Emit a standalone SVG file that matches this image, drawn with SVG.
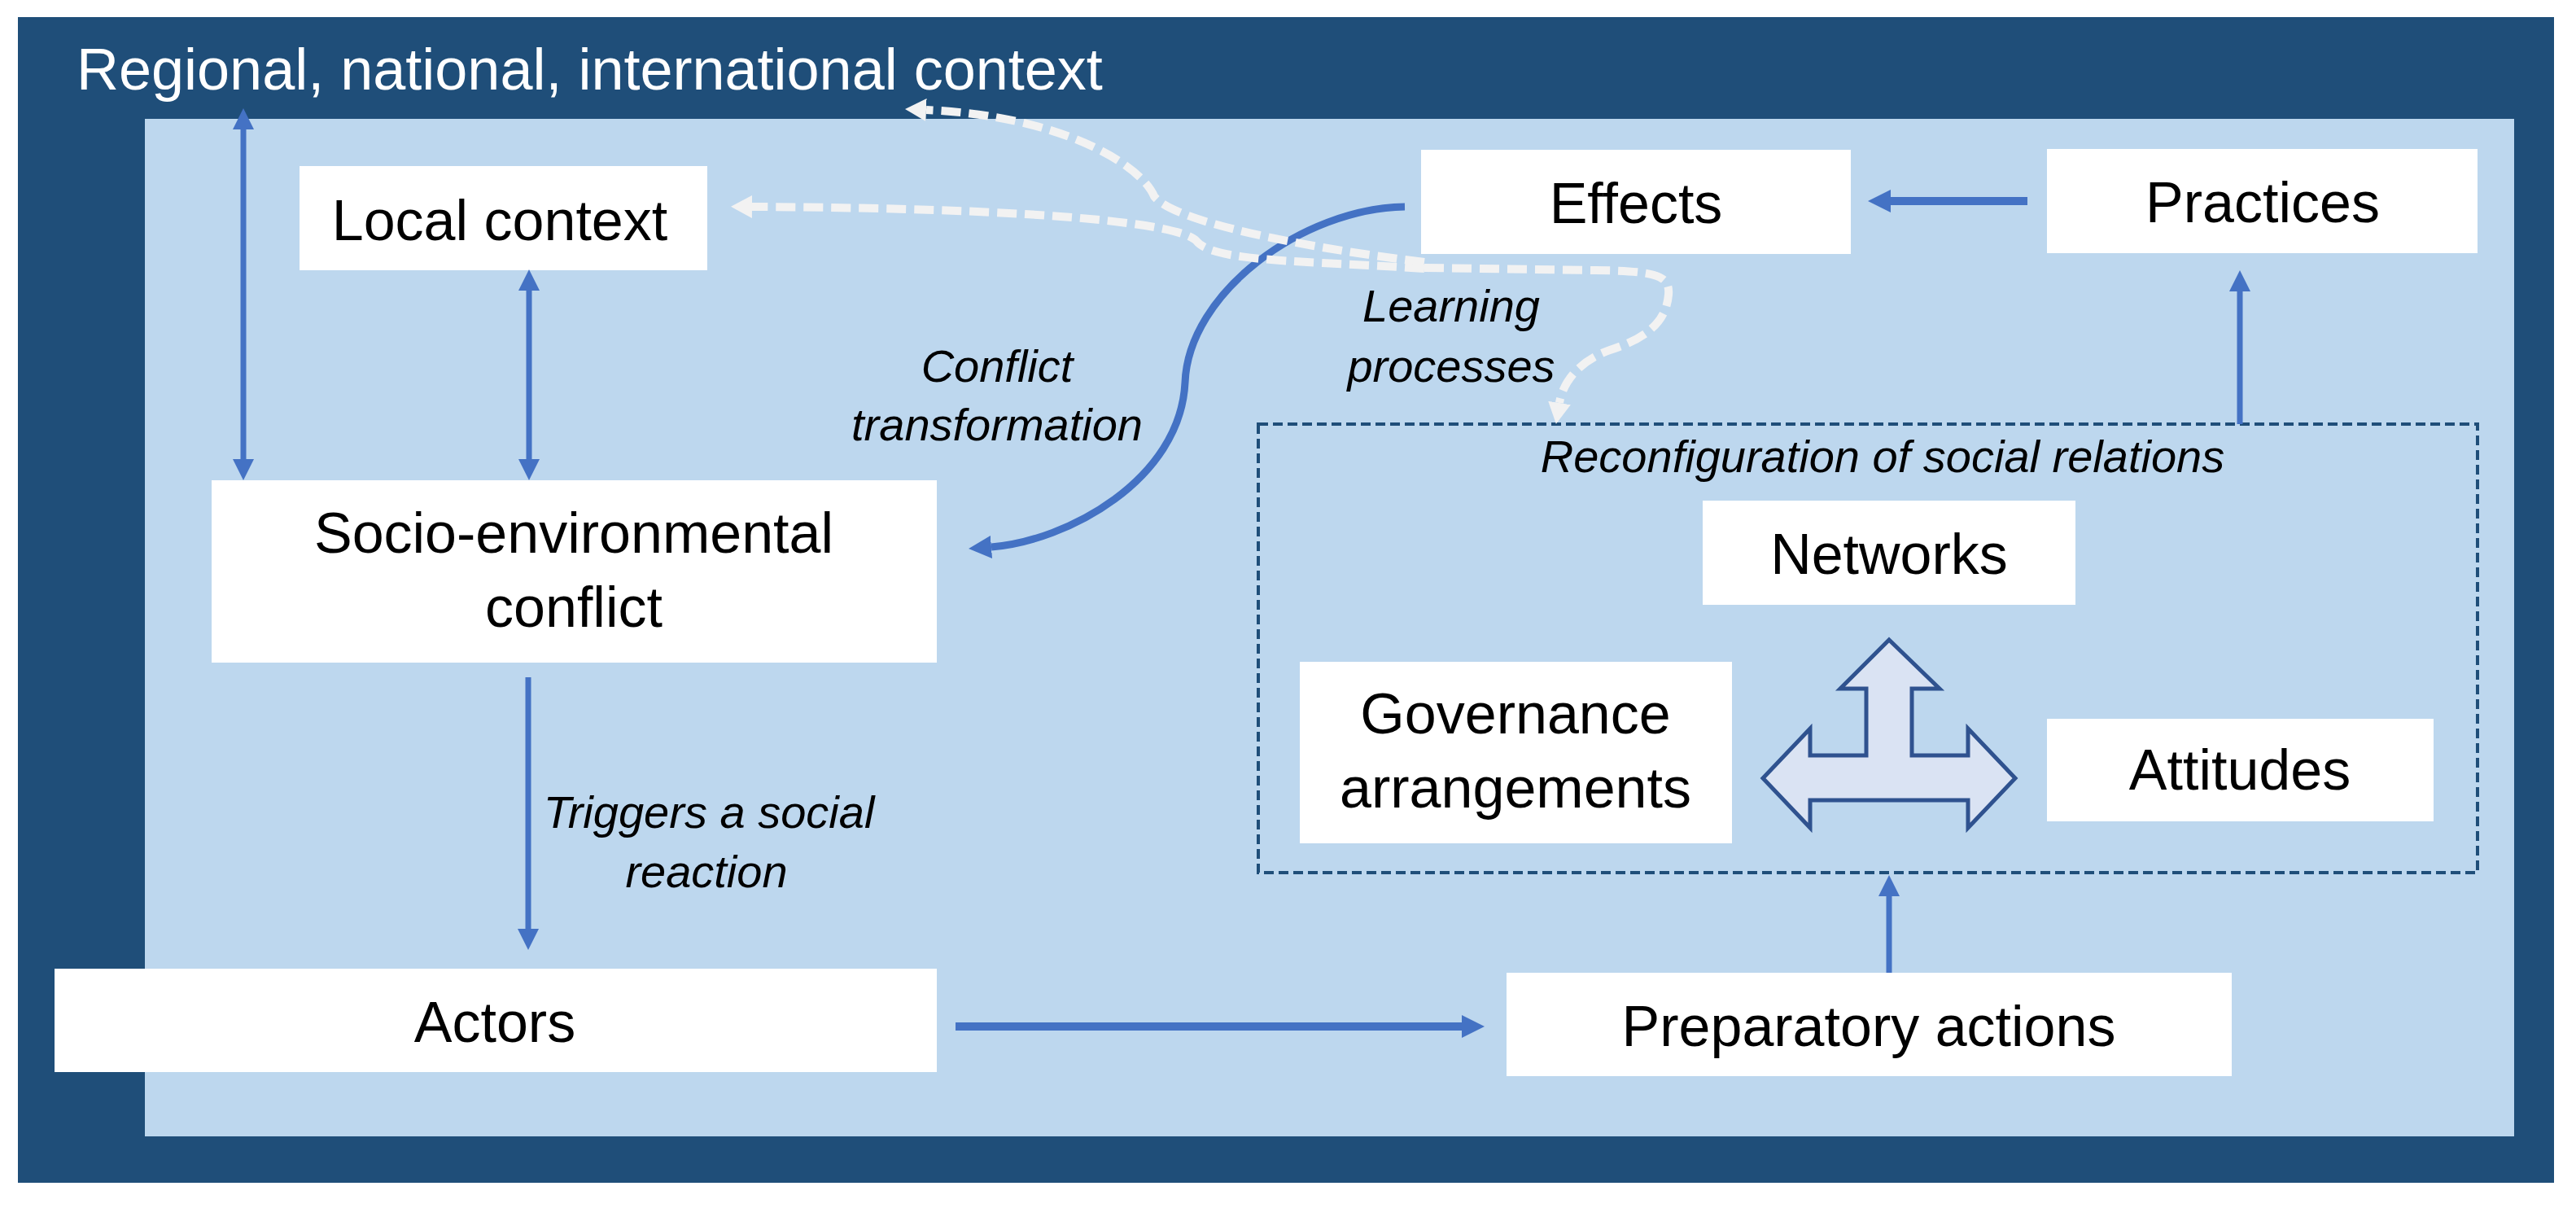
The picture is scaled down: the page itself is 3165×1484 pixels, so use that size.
<svg xmlns="http://www.w3.org/2000/svg" width="3165" height="1484" viewBox="0 0 3165 1484">
<style>
.box{fill:#ffffff;stroke:none}
.lbl{font-family:"Liberation Sans",Arial,sans-serif;font-size:70px;fill:#000;text-anchor:middle}
.it{font-family:"Liberation Sans",Arial,sans-serif;font-size:56px;font-style:italic;fill:#000;text-anchor:middle}
.blue{fill:none;stroke:#4472C4}
.wd{fill:none;stroke:#F2F2F2;stroke-width:10;stroke-dasharray:24 10}
</style>
<defs>
<marker id="ah" markerUnits="userSpaceOnUse" markerWidth="26" markerHeight="26" refX="0" refY="13" orient="auto-start-reverse" viewBox="0 0 26 26">
<path d="M0,0 L26,13 L0,26 z" fill="#4472C4"/>
</marker>
<marker id="ahb" markerUnits="userSpaceOnUse" markerWidth="28" markerHeight="28" refX="0" refY="14" orient="auto" viewBox="0 0 28 28">
<path d="M0,0 L28,14 L0,28 z" fill="#4472C4"/>
</marker>
<marker id="aw" markerUnits="userSpaceOnUse" markerWidth="26" markerHeight="28" refX="0" refY="14" orient="auto" viewBox="0 0 26 28">
<path d="M0,0 L26,14 L0,28 z" fill="#F2F2F2"/>
</marker>
</defs>
<rect x="0" y="0" width="3165" height="1484" fill="#ffffff"/>
<g id="context">
<rect x="22" y="21" width="3116" height="1432" fill="#1F4E79"/>
<rect x="178" y="146" width="2911" height="1250" fill="#BDD7EE"/>
<text x="94" y="110" font-family="Liberation Sans, Arial, sans-serif" font-size="72" fill="#ffffff">Regional, national, international context</text>
</g>
<g id="reconfiguration">
<rect x="1546" y="521" width="1498" height="551" fill="none" stroke="#1F4E79" stroke-width="4" stroke-dasharray="12 6"/>
<text class="it" x="2313" y="580">Reconfiguration of social relations</text>
</g>
<g id="local-context">
<rect class="box" x="368" y="204" width="501" height="128"/>
<text class="lbl" x="614" y="295">Local context</text>
</g>
<g id="socio-environmental-conflict">
<rect class="box" x="260" y="590" width="891" height="224"/>
<text class="lbl" x="705" y="679">Socio-environmental</text>
<text class="lbl" x="705" y="770">conflict</text>
</g>
<g id="actors">
<rect class="box" x="67" y="1190" width="1084" height="127"/>
<text class="lbl" x="608" y="1280">Actors</text>
</g>
<g id="preparatory-actions">
<rect class="box" x="1851" y="1195" width="891" height="127"/>
<text class="lbl" x="2296" y="1285">Preparatory actions</text>
</g>
<g id="effects">
<rect class="box" x="1746" y="184" width="528" height="128"/>
<text class="lbl" x="2010" y="274">Effects</text>
</g>
<g id="practices">
<rect class="box" x="2515" y="183" width="529" height="128"/>
<text class="lbl" x="2780" y="273">Practices</text>
</g>
<g id="networks">
<rect class="box" x="2092" y="615" width="458" height="128"/>
<text class="lbl" x="2321" y="705">Networks</text>
</g>
<g id="governance-arrangements">
<rect class="box" x="1597" y="813" width="531" height="223"/>
<text class="lbl" x="1862" y="901">Governance</text>
<text class="lbl" x="1862" y="992">arrangements</text>
</g>
<g id="attitudes">
<rect class="box" x="2515" y="883" width="475" height="126"/>
<text class="lbl" x="2752" y="970">Attitudes</text>
</g>
<g id="triple-arrow">
<polygon points="2321,786 2383,846 2349,846 2349,928 2418,928 2418,895 2476,956 2418,1017 2418,983 2224,983 2224,1017 2166,956 2224,895 2224,928 2293,928 2293,846 2261,846" fill="#DAE3F3" stroke="#2F528F" stroke-width="5" stroke-linejoin="miter"/>
</g>
<g id="connectors">
<line class="blue" x1="299" y1="159" x2="299" y2="564" stroke-width="7" marker-start="url(#ah)" marker-end="url(#ah)"/>
<line class="blue" x1="650" y1="357" x2="650" y2="564" stroke-width="7" marker-start="url(#ah)" marker-end="url(#ah)"/>
<line class="blue" x1="649" y1="832" x2="649" y2="1141" stroke-width="7" marker-end="url(#ah)"/>
<line class="blue" x1="1174" y1="1261" x2="1796" y2="1261" stroke-width="10" marker-end="url(#ahb)"/>
<line class="blue" x1="2321" y1="1195" x2="2321" y2="1101" stroke-width="7" marker-end="url(#ah)"/>
<line class="blue" x1="2752" y1="521" x2="2752" y2="358" stroke-width="7" marker-end="url(#ah)"/>
<line class="blue" x1="2491" y1="247" x2="2323" y2="247" stroke-width="10" marker-end="url(#ahb)"/>
<path class="blue" d="M1726,254 C1600,256 1460,360 1456,470 C1450,590 1310,665 1218,672" stroke-width="9" marker-end="url(#ahb)"/>
<text class="it" x="1225" y="469">Conflict</text>
<text class="it" x="1225" y="541">transformation</text>
<text class="it" x="871" y="1017">Triggers a social</text>
<text class="it" x="868" y="1090">reaction</text>
<path class="wd" d="M1750,322 C1600,304 1440,272 1418,241 C1400,200 1300,142 1138,135" marker-end="url(#aw)"/>
<path class="wd" d="M1750,330 C1600,320 1490,322 1470,296 C1452,276 1300,256 924,254" marker-end="url(#aw)"/>
<path class="wd" d="M1750,329 L1960,332 C2035,333 2052,338 2050,362 C2047,400 2015,418 1978,430 C1940,443 1920,470 1916,495" stroke-width="11" marker-end="url(#aw)"/>
<text class="it" x="1783" y="395">Learning</text>
<text class="it" x="1783" y="469">processes</text>
</g>
</svg>
